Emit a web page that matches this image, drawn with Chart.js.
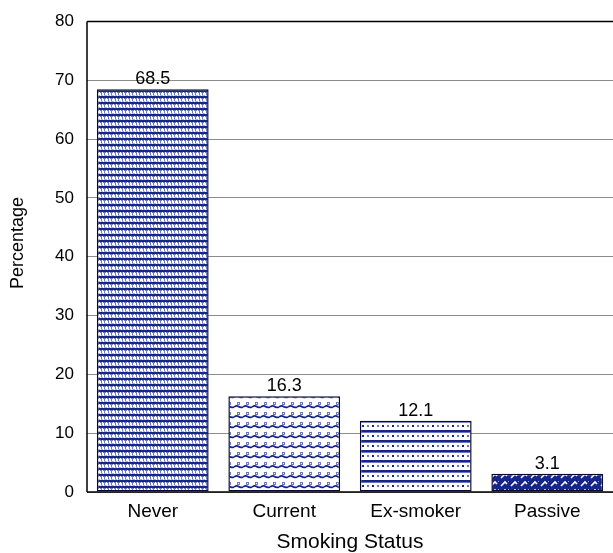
<!DOCTYPE html>
<html>
<head>
<meta charset="utf-8">
<script src="https://cdn.jsdelivr.net/npm/chart.js@4"></script>
<style>
  html, body { margin: 0; padding: 0; background: #fff; }
  #wrap { width: 613px; height: 553px; }
</style>
</head>
<body>
<div id="wrap"><canvas id="c" width="613" height="553"></canvas></div>
<script>
// Smoking status distribution (%)
const categories = ['Never', 'Current', 'Ex-smoker', 'Passive'];
const percentages = [68.5, 16.3, 12.1, 3.1];
const yTicks = [0, 10, 20, 30, 40, 50, 60, 70, 80];
const xTitle = 'Smoking Status';
const yTitle = 'Percentage';

const NAVY = '#15258a';
const MID = '#6a78c0';
const LIGHT = '#aab3de';
const FONT = '"Liberation Sans", Arial, sans-serif';

function makeTile(w, h, draw) {
  const t = document.createElement('canvas');
  t.width = w; t.height = h;
  const g = t.getContext('2d');
  draw(g);
  return document.getElementById('c').getContext('2d').createPattern(t, 'repeat');
}

// Dense dotted weave
const patNever = makeTile(7, 6, g => {
  g.fillStyle = '#fff'; g.fillRect(0, 0, 7, 6);
  g.fillStyle = NAVY; g.fillRect(0, 0, 7, 2);
  g.fillStyle = MID; g.fillRect(0, 2, 7, 1);
  g.fillStyle = '#fff'; g.fillRect(1, 2, 1, 1); g.fillRect(4, 2, 1, 1);
  g.fillStyle = MID; g.fillRect(3, 3, 1, 2); g.fillRect(6, 3, 1, 2);
  g.fillStyle = LIGHT; g.fillRect(0, 5, 7, 1);
  g.fillStyle = '#fff'; g.fillRect(2, 5, 1, 1); g.fillRect(5, 5, 1, 1);
});
// Wavy line with small loops
const patCurrent = makeTile(9, 10, g => {
  g.fillStyle = '#fff'; g.fillRect(0, 0, 9, 10);
  g.strokeStyle = NAVY; g.lineWidth = 1.8;
  g.beginPath(); g.moveTo(0, 7); g.quadraticCurveTo(2.5, 5, 4.5, 6.5); g.quadraticCurveTo(6.5, 8, 9, 7); g.stroke();
  g.fillStyle = MID; g.fillRect(3, 2, 3, 3);
  g.fillStyle = '#fff'; g.fillRect(4, 3, 1, 1);
});
// Lines with dots between
const patEx = makeTile(10, 10, g => {
  g.fillStyle = '#fff'; g.fillRect(0, 0, 10, 10);
  g.fillStyle = NAVY; g.fillRect(0, 0, 10, 2);
  g.fillStyle = MID; g.fillRect(0, 2, 10, 1);
  g.fillStyle = NAVY; g.fillRect(2, 5, 2, 2);
  g.fillStyle = MID; g.fillRect(7, 5, 2, 2);
});
// Navy with white zigzag
const patPassive = makeTile(10, 8, g => {
  g.fillStyle = NAVY; g.fillRect(0, 0, 10, 8);
  g.strokeStyle = '#fff'; g.lineWidth = 1.6;
  g.beginPath(); g.moveTo(1, 6); g.lineTo(5, 2); g.lineTo(7, 4); g.stroke();
  g.fillStyle = '#9aa6dc'; g.fillRect(8, 1, 1, 1);
});

const patterns = [patNever, patCurrent, patEx, patPassive];

const valueLabels = {
  id: 'valueLabels',
  afterDatasetsDraw(chart) {
    const ctx = chart.ctx;
    const meta = chart.getDatasetMeta(0);
    ctx.save();
    ctx.font = '18px ' + FONT;
    ctx.fillStyle = '#000';
    ctx.textAlign = 'center';
    ctx.textBaseline = 'bottom';
    meta.data.forEach((bar, i) => {
      ctx.fillText(String(percentages[i]), bar.x, bar.y - 1);
    });
    ctx.restore();
  }
};

// Plot frame (top, left, bottom) and the rotated y-axis title
const frame = {
  id: 'frame',
  afterDatasetsDraw(chart) {
    const { ctx, chartArea: a } = chart;
    ctx.save();
    ctx.strokeStyle = '#000';
    ctx.lineWidth = 1.5;
    ctx.beginPath();
    ctx.moveTo(a.left, a.top); ctx.lineTo(a.right, a.top);
    ctx.moveTo(a.left, a.top); ctx.lineTo(a.left, a.bottom);
    ctx.moveTo(a.left, a.bottom); ctx.lineTo(a.right, a.bottom);
    ctx.stroke();

    ctx.translate(18, 243);
    ctx.rotate(-Math.PI / 2);
    ctx.font = '18px ' + FONT;
    ctx.fillStyle = '#000';
    ctx.textAlign = 'center';
    ctx.textBaseline = 'middle';
    ctx.fillText(yTitle, 0, 0);
    ctx.restore();
  }
};

new Chart(document.getElementById('c'), {
  type: 'bar',
  data: {
    labels: categories,
    datasets: [{
      data: percentages,
      backgroundColor: patterns,
      borderColor: '#0a0a30',
      borderWidth: 1.5,
      borderSkipped: false,
      barPercentage: 0.85,
      categoryPercentage: 1.0
    }]
  },
  options: {
    responsive: false,
    animation: false,
    devicePixelRatio: 1,
    layout: { padding: { top: 19, right: 0, left: 0, bottom: 0 } },
    plugins: { legend: { display: false }, tooltip: { enabled: false } },
    scales: {
      x: {
        grid: { display: false, drawTicks: false },
        border: { display: false },
        ticks: { color: '#000', font: { size: 19, family: FONT }, padding: 8 },
        title: { display: true, text: xTitle, color: '#000', font: { size: 21, family: FONT, lineHeight: 1 }, padding: { top: 0, bottom: 0 } },
        afterFit(s) { s.height = 61; }
      },
      y: {
        min: 0, max: 80,
        afterBuildTicks(s) { s.ticks = yTicks.map(v => ({ value: v })); },
        grid: { color: '#8c8c8c', lineWidth: 1, drawTicks: false },
        border: { display: false },
        ticks: { color: '#000', font: { size: 17, family: FONT, lineHeight: 1 }, padding: 13 },
        afterFit(s) { s.width = 87; }
      }
    }
  },
  plugins: [valueLabels, frame]
});
</script>
</body>
</html>
